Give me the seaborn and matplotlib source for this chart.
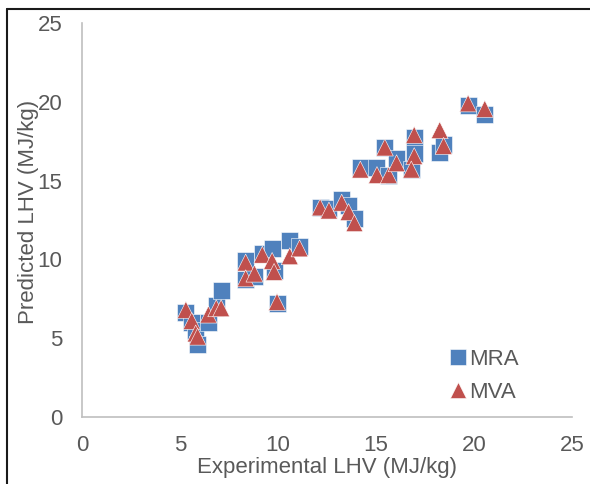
import pandas as pd
import seaborn as sns
import matplotlib.pyplot as plt
from matplotlib.lines import Line2D

# experimental LHV and the two model predictions (MJ/kg)
experimental = [5.3, 5.6, 5.8, 5.9, 6.45, 6.85, 7.1, 8.35, 8.35, 8.8, 9.2, 9.7, 9.8, 9.95,
                10.6, 11.1, 12.15, 12.6, 13.25, 13.6, 13.9, 14.2, 15.05, 15.45, 15.65, 16.05,
                16.95, 16.95, 16.8, 18.25, 18.45, 19.7, 20.55]
mra = [6.6, 6.0, 5.5, 4.6, 6.0, 7.1, 8.0, 9.9, 8.7, 8.9, 10.4, 10.7, 9.3, 7.2,
       11.2, 10.8, 13.3, 13.2, 13.8, 13.4, 12.6, 15.8, 15.85, 17.1, 15.3, 16.4,
       17.75, 16.7, 15.7, 16.8, 17.3, 19.75, 19.2]
mva = [6.8, 6.1, 5.3, 5.1, 6.5, 6.9, 6.9, 9.8, 8.8, 9.1, 10.3, 9.9, 9.2, 7.3,
       10.2, 10.7, 13.3, 13.1, 13.6, 13.0, 12.3, 15.7, 15.35, 17.1, 15.35, 16.1,
       17.9, 16.55, 15.7, 18.2, 17.2, 19.9, 19.55]
models = ['MRA', 'MVA']

df = pd.concat([
    pd.DataFrame({'Experimental': experimental, 'Predicted': mra, 'Model': 'MRA'}),
    pd.DataFrame({'Experimental': experimental, 'Predicted': mva, 'Model': 'MVA'}),
], ignore_index=True)

sns.set_style('white')
plt.rcParams['font.family'] = ['Liberation Sans', 'DejaVu Sans']
grey = '#595959'
fs = 16

fig = plt.figure(figsize=(5.9, 4.84), dpi=100)
ax = fig.add_axes([82 / 590, 1 - 417 / 484, 490 / 590, 394 / 484])

sns.scatterplot(data=df, x='Experimental', y='Predicted', hue='Model', style='Model',
                hue_order=models, style_order=models,
                palette={'MRA': '#4F81BD', 'MVA': '#C0504D'},
                markers={'MRA': 's', 'MVA': '^'}, s=150, linewidth=0.4,
                edgecolor='white', ax=ax)

ax.set_xlim(0, 25)
ax.set_ylim(0, 25)
ax.set_xticks(range(0, 26, 5))
ax.set_yticks(range(0, 26, 5))
ax.tick_params(length=0, labelsize=fs, labelcolor=grey)
ax.tick_params(axis='x', pad=13)
ax.tick_params(axis='y', pad=14)
for side in ['top', 'right']:
    ax.spines[side].set_visible(False)
for side in ['left', 'bottom']:
    ax.spines[side].set_color('#BFBFBF')
    ax.spines[side].set_linewidth(1.2)

ax.set_xlabel('Experimental LHV (MJ/kg)', fontsize=fs, color=grey)
ax.set_ylabel('Predicted LHV (MJ/kg)', fontsize=fs, color=grey)
ax.xaxis.set_label_coords(0.5, -0.128)
ax.yaxis.set_label_coords(-0.11, 0.52)
ax.xaxis.label.set_va('center')
ax.yaxis.label.set_va('center')

handles, labels = ax.get_legend_handles_labels()
leg = ax.legend(handles, labels, loc='center left', bbox_to_anchor=(0.722, 0.104),
                frameon=False, fontsize=fs, handletextpad=0.0, handlelength=1.0,
                labelspacing=0.55, markerscale=0.95, borderpad=0)
for t in leg.get_texts():
    t.set_color(grey)

# outer frame (cropped screenshot border)
fig.add_artist(Line2D([7 / 590, 7 / 590], [0, 1 - 9 / 484], color='#1a1a1a', lw=1.5))
fig.add_artist(Line2D([7 / 590, 1], [1 - 9 / 484, 1 - 9 / 484], color='#1a1a1a', lw=1.5))

fig.savefig('out.png', dpi=100)
